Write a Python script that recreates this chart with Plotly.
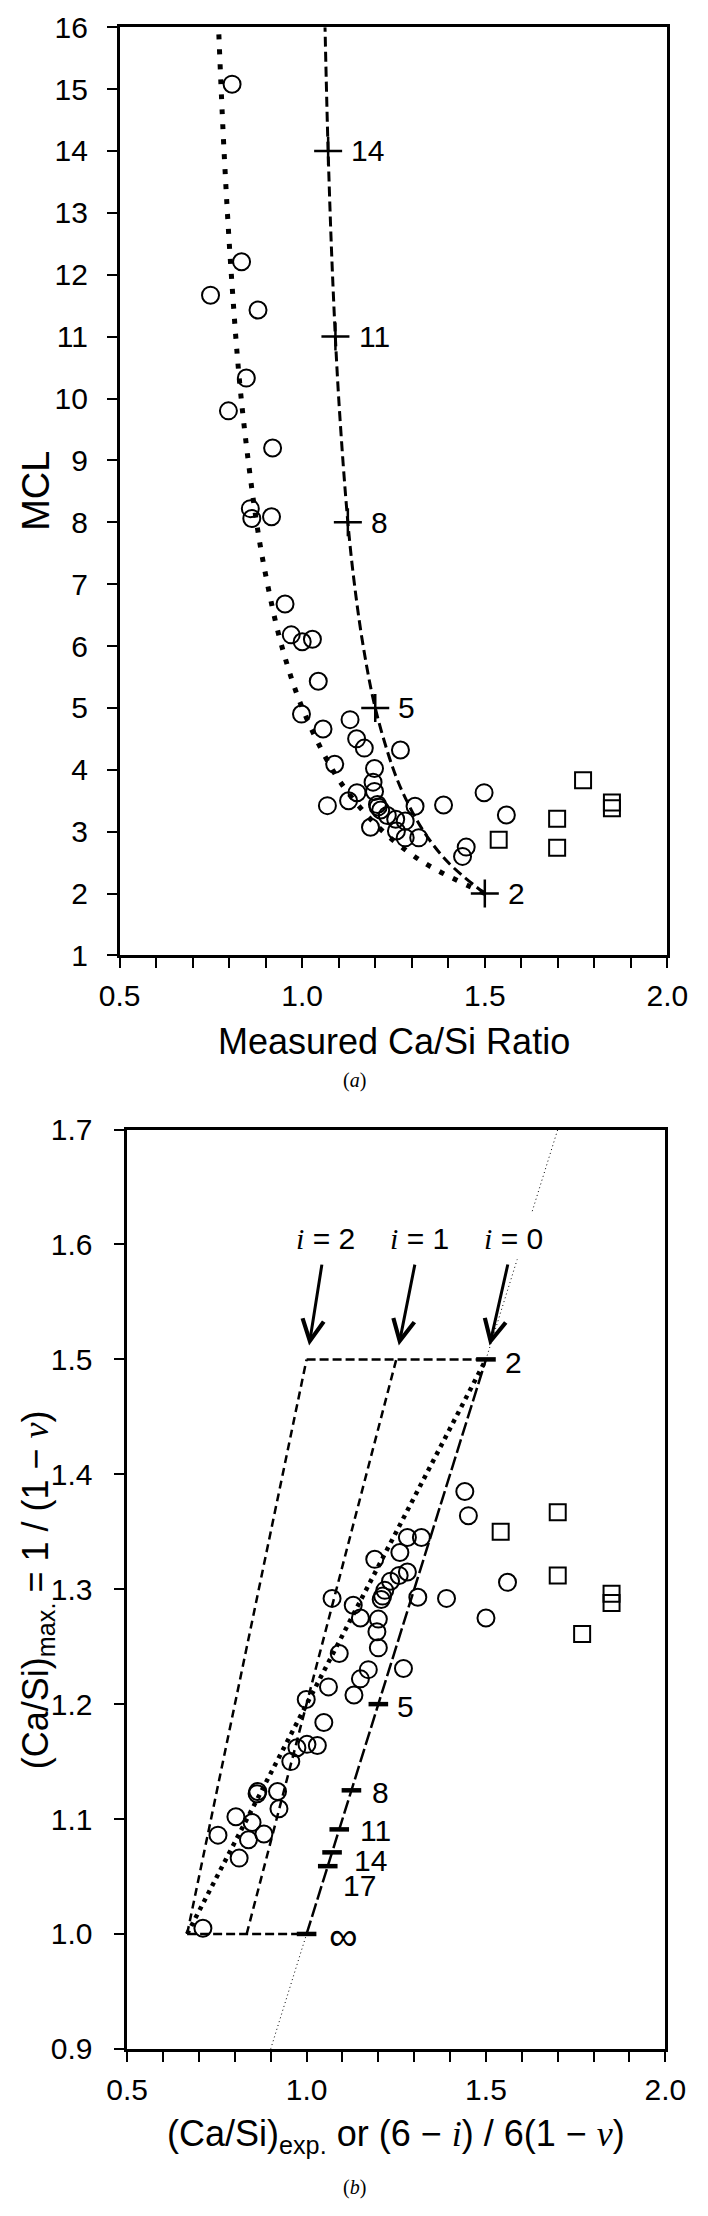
import plotly.graph_objects as go

# ---------------- data: panel (a) ----------------
circ_a_x = [0.808, 0.834, 0.749, 0.879, 0.847, 0.798, 0.919, 0.858, 0.862, 0.916,
            0.953, 0.970, 1.000, 1.028, 1.044, 0.998, 1.057, 1.131, 1.149, 1.170,
            1.269, 1.089, 1.198, 1.194, 1.198, 1.150, 1.127, 1.069, 1.206, 1.215,
            1.208, 1.309, 1.387, 1.498, 1.559, 1.256, 1.282, 1.233, 1.187, 1.258,
            1.282, 1.319, 1.449, 1.439]
circ_a_mcl = [15.08, 12.21, 11.67, 11.43, 10.33, 9.80, 9.20, 8.22, 8.06, 8.09,
              6.68, 6.18, 6.07, 6.11, 5.43, 4.90, 4.66, 4.81, 4.50, 4.35,
              4.32, 4.09, 4.02, 3.80, 3.65, 3.63, 3.50, 3.42, 3.44, 3.35,
              3.40, 3.41, 3.43, 3.63, 3.27, 3.20, 3.17, 3.26, 3.07, 3.01,
              2.90, 2.90, 2.75, 2.60]
sq_a_x = [1.538, 1.698, 1.698, 1.769, 1.848, 1.848]
sq_a_mcl = [2.87, 3.21, 2.74, 3.83, 3.47, 3.38]

curve_mcl = [2, 2.5, 3, 3.5, 4, 5, 6, 7, 8, 10, 12, 14, 16]
dotted_curve_x = [1.500, 1.333, 1.222, 1.143, 1.083, 1.000, 0.944, 0.905, 0.875, 0.833, 0.806, 0.786, 0.771]
dashed_curve_x = [1.500, 1.400, 1.333, 1.286, 1.250, 1.200, 1.167, 1.143, 1.125, 1.100, 1.083, 1.071, 1.0625]

chain_mcl = [2, 5, 8, 11, 14]
chain_x = [1.500, 1.200, 1.125, 1.091, 1.071]
chain_labels = ["2", "5", "8", "11", "14"]

# ---------------- data: panel (b) ----------------
circ_b_x = [0.812, 0.838, 0.753, 0.881, 0.848, 0.803, 0.923, 0.862, 0.864, 0.919,
            0.956, 0.973, 1.001, 1.030, 1.048, 0.999, 1.061, 1.132, 1.150, 1.172,
            1.270, 1.091, 1.200, 1.196, 1.200, 1.150, 1.130, 1.071, 1.208, 1.218,
            1.212, 1.310, 1.390, 1.500, 1.560, 1.258, 1.281, 1.234, 1.190, 1.260,
            1.281, 1.320, 1.451, 1.441, 0.711]
circ_b_y = [1.066, 1.082, 1.086, 1.087, 1.097, 1.102, 1.109, 1.122, 1.124, 1.124,
            1.150, 1.162, 1.165, 1.164, 1.184, 1.204, 1.215, 1.208, 1.222, 1.230,
            1.231, 1.244, 1.249, 1.263, 1.274, 1.275, 1.286, 1.292, 1.291, 1.299,
            1.294, 1.293, 1.292, 1.275, 1.306, 1.312, 1.315, 1.307, 1.326, 1.332,
            1.345, 1.345, 1.364, 1.385, 1.005]
sq_b_x = [1.541, 1.700, 1.700, 1.768, 1.850, 1.850]
sq_b_y = [1.350, 1.312, 1.367, 1.261, 1.288, 1.296]

i2_x, i2_y = [0.667, 1.000], [1.000, 1.500]
i1_x, i1_y = [0.833, 1.250], [1.000, 1.500]
i0_x, i0_y = [1.000, 1.500], [1.000, 1.500]
top_h_x, top_h_y = [1.000, 1.500], [1.500, 1.500]
bot_h_x, bot_h_y = [0.667, 1.000], [1.000, 1.000]
model_x, model_y = [0.667, 1.500], [1.000, 1.500]
diag_lo = [0.900, 1.000]
diag_mid = [1.500, 1.587]
diag_hi = [1.629, 1.700]

tick_b_v = [1.500, 1.200, 1.125, 1.091, 1.071, 1.059, 1.000]
tick_b_labels = ["2", "5", "8", "11", "14", "17", "\u221e"]
tick_b_label_x = [1.548, 1.247, 1.176, 1.143, 1.126, 1.095, 1.056]
tick_b_label_y = [1.497, 1.198, 1.123, 1.090, 1.064, 1.042, 0.998]

arrow_labels = ["2", "1", "0"]
arrow_head_x = [1.007, 1.257, 1.510]
arrow_head_y = 1.512
arrow_label_x = [1.054, 1.316, 1.577]
arrow_label_y = 1.605

SANS = "Liberation Sans, Arial, sans-serif"
SERIF = "Liberation Serif, Times New Roman, serif"
BLACK = "black"

fig = go.Figure()

# ---- panel (a) ----
fig.add_trace(go.Scatter(x=dotted_curve_x, y=curve_mcl, mode="lines", line_shape="spline",
                         line=dict(color=BLACK, width=5, dash="5px,10px"),
                         xaxis="x", yaxis="y", showlegend=False, hoverinfo="skip"))
fig.add_trace(go.Scatter(x=dashed_curve_x, y=curve_mcl, mode="lines", line_shape="spline",
                         line=dict(color=BLACK, width=3, dash="10px,5px"),
                         xaxis="x", yaxis="y", showlegend=False, hoverinfo="skip"))
fig.add_trace(go.Scatter(x=chain_x, y=chain_mcl, mode="markers",
                         marker=dict(symbol="cross-thin", size=20, line=dict(color=BLACK, width=2.5)),
                         xaxis="x", yaxis="y", showlegend=False))
fig.add_trace(go.Scatter(x=circ_a_x, y=circ_a_mcl, mode="markers",
                         marker=dict(symbol="circle-open", size=17, color=BLACK, line=dict(width=2)),
                         xaxis="x", yaxis="y", showlegend=False))
fig.add_trace(go.Scatter(x=sq_a_x, y=sq_a_mcl, mode="markers",
                         marker=dict(symbol="square-open", size=16, color=BLACK, line=dict(width=2)),
                         xaxis="x", yaxis="y", showlegend=False))

# ---- panel (b) ----
for xs, ys in [(diag_lo, diag_lo), (diag_mid, diag_mid), (diag_hi, diag_hi)]:
    fig.add_trace(go.Scatter(x=xs, y=ys, mode="lines", line=dict(color=BLACK, width=1, dash="1px,3px"),
                             xaxis="x2", yaxis="y2", showlegend=False, hoverinfo="skip"))
for xs, ys, dash in [(i2_x, i2_y, "8px,5px"), (i1_x, i1_y, "8px,5px"), (i0_x, i0_y, "14px,4px"),
                     (top_h_x, top_h_y, "9px,4px"), (bot_h_x, bot_h_y, "9px,4px")]:
    fig.add_trace(go.Scatter(x=xs, y=ys, mode="lines", line=dict(color=BLACK, width=2.5, dash=dash),
                             xaxis="x2", yaxis="y2", showlegend=False, hoverinfo="skip"))
fig.add_trace(go.Scatter(x=model_x, y=model_y, mode="lines",
                         line=dict(color=BLACK, width=4.5, dash="4px,5px"),
                         xaxis="x2", yaxis="y2", showlegend=False, hoverinfo="skip"))
fig.add_trace(go.Scatter(x=circ_b_x, y=circ_b_y, mode="markers",
                         marker=dict(symbol="circle-open", size=17, color=BLACK, line=dict(width=2)),
                         xaxis="x2", yaxis="y2", showlegend=False))
fig.add_trace(go.Scatter(x=sq_b_x, y=sq_b_y, mode="markers",
                         marker=dict(symbol="square-open", size=16, color=BLACK, line=dict(width=2)),
                         xaxis="x2", yaxis="y2", showlegend=False))
fig.add_trace(go.Scatter(x=tick_b_v, y=tick_b_v, mode="markers",
                         marker=dict(symbol="line-ew", size=14, line=dict(color=BLACK, width=4.5)),
                         xaxis="x2", yaxis="y2", showlegend=False))

annotations = []
for xv, yv, lab in zip(chain_x, chain_mcl, chain_labels):
    annotations.append(dict(x=xv + 0.058, y=yv, xref="x", yref="y", text=lab, showarrow=False,
                            xanchor="left", yanchor="middle", font=dict(family=SANS, size=30, color=BLACK)))
for xv, yv, lab in zip(tick_b_label_x, tick_b_label_y, tick_b_labels):
    annotations.append(dict(x=xv, y=yv, xref="x2", yref="y2", text=lab, showarrow=False,
                            xanchor="left", yanchor="middle",
                            font=dict(family=SANS, size=(40 if lab == "\u221e" else 30), color=BLACK)))
# "i = n" labels, each carrying its arrow down to the i-line
for lab, hx, lx in zip(arrow_labels, arrow_head_x, arrow_label_x):
    annotations.append(dict(x=hx, y=arrow_head_y, ax=lx, ay=arrow_label_y, xref="x2", yref="y2",
                            axref="x2", ayref="y2",
                            text='<span style="font-family:Liberation Serif"><i>i</i></span> = ' + lab,
                            showarrow=True, arrowhead=5, arrowsize=1.4, arrowwidth=3, arrowcolor=BLACK,
                            startstandoff=8, font=dict(family=SANS, size=30, color=BLACK)))

annotations += [
    dict(x=16 / 708, y=1 - 482 / 2216, xref="paper", yref="paper", text="MCL", textangle=-90,
         showarrow=False, xanchor="center", yanchor="middle", font=dict(family=SANS, size=38, color=BLACK)),
    dict(x=396 / 708, y=1 - 1041 / 2216, xref="paper", yref="paper", text="Measured Ca/Si Ratio",
         showarrow=False, xanchor="center", yanchor="middle", font=dict(family=SANS, size=36, color=BLACK)),
    dict(x=354 / 708, y=1 - 1081 / 2216, xref="paper", yref="paper",
         text="(<i>a</i>)", showarrow=False, xanchor="center", yanchor="middle",
         font=dict(family=SERIF, size=20, color=BLACK)),
    dict(x=18 / 708, y=1 - 1597 / 2216, xref="paper", yref="paper", textangle=-90,
         text='(Ca/Si)<sub>max.</sub> = 1 / (1 \u2212 <span style="font-family:Liberation Serif"><i>\u03bd</i></span>)',
         showarrow=False, xanchor="center", yanchor="middle", font=dict(family=SANS, size=36, color=BLACK)),
    dict(x=399 / 708, y=1 - 2152 / 2216, xref="paper", yref="paper",
         text='(Ca/Si)<sub>exp.</sub> or (6 \u2212 <span style="font-family:Liberation Serif"><i>i</i></span>) / 6(1 \u2212 <span style="font-family:Liberation Serif"><i>v</i></span>)',
         showarrow=False, xanchor="center", yanchor="middle", font=dict(family=SANS, size=36, color=BLACK)),
    dict(x=354 / 708, y=1 - 2204 / 2216, xref="paper", yref="paper",
         text="(<i>b</i>)", showarrow=False, xanchor="center", yanchor="middle",
         font=dict(family=SERIF, size=20, color=BLACK)),
]

axis_common = dict(showline=True, linecolor=BLACK, linewidth=2.5, mirror=True, ticks="outside",
                   ticklen=10, tickwidth=2, tickcolor=BLACK, showgrid=False, zeroline=False,
                   tickfont=dict(family=SANS, size=30, color=BLACK))
xminor = dict(dtick=0.1, ticks="outside", ticklen=10, tickwidth=2, tickcolor=BLACK, showgrid=False)

fig.update_layout(
    width=708, height=2216, margin=dict(l=0, r=0, t=0, b=0, pad=0), autosize=False,
    paper_bgcolor="white", plot_bgcolor="white", showlegend=False,
    xaxis=dict(domain=[104.8 / 708, 687.2 / 708], range=[0.5, 2.0], dtick=0.5, tick0=0.5,
               tickformat=".1f", minor=xminor, anchor="y", ticklabelstandoff=2, **axis_common),
    yaxis=dict(domain=[1 - 953.6 / 2216, 1 - 11.4 / 2216], range=[1, 16], dtick=1, tick0=1,
               anchor="x", ticklabelstandoff=13, **axis_common),
    xaxis2=dict(domain=[112.9 / 708, 685 / 708], range=[0.5, 2.0], dtick=0.5, tick0=0.5,
                tickformat=".1f", minor=xminor, anchor="y2", ticklabelstandoff=2, **axis_common),
    yaxis2=dict(domain=[1 - 2063.6 / 2216, 1 - 1130.4 / 2216], range=[0.9, 1.7], dtick=0.1, tick0=0.9,
                tickformat=".1f", anchor="x2", ticklabelstandoff=16, **axis_common),
    annotations=annotations,
)

fig.write_html("out.html", config={"displayModeBar": False, "responsive": False},
               post_script="document.body.style.margin='0';")
